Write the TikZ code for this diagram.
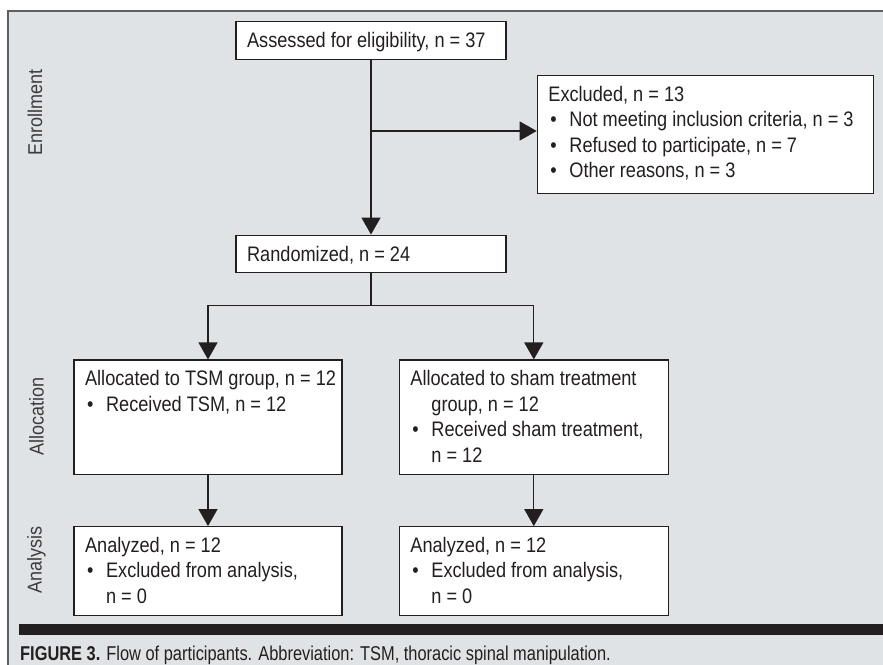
\documentclass[tikz,border=0pt]{standalone}
\usepackage{fontspec}
\setmainfont{Liberation Sans}[FakeStretch=0.865]
\newfontfamily\sidefont{Liberation Sans}[FakeStretch=0.9]
\newfontfamily\capfont{Liberation Sans}[FakeStretch=0.82]
\usetikzlibrary{arrows.meta,calc}
\definecolor{panel}{RGB}{224,227,230}
\definecolor{ink}{RGB}{35,31,32}
\definecolor{frame}{RGB}{95,95,97}
\definecolor{sidegray}{RGB}{60,60,62}
\newcommand{\bul}{\makebox[21pt][l]{\hspace{2pt}\textbullet}}
\newcommand{\ind}{\hspace*{21pt}}
\newcommand{\lns}[1]{\begin{tabular}[t]{@{}l@{}}#1\end{tabular}}
\begin{document}
\begin{tikzpicture}[x=1pt,y=-1pt,
 box/.style={draw=ink, line width=1.2pt, fill=white, inner sep=0pt},
 txt/.style={anchor=base west, inner sep=0pt, font=\fontsize{21}{25.5}\selectfont, text=ink},
 side/.style={rotate=90, font=\sidefont\fontsize{20}{24}\selectfont, text=sidegray, inner sep=0pt},
 flow/.style={draw=ink, line width=1.2pt, -{Triangle[length=17pt,width=19pt]}},
 link/.style={draw=ink, line width=1.2pt}]
\useasboundingbox (0,0) rectangle (883,664);
\fill[white] (0,0) rectangle (883,664);
\fill[panel] (8,10.7) rectangle (900,700);
\draw[frame, line width=1.6pt] (8,700) -- (8,10.7) -- (900,10.7);
\fill[ink] (19,624.3) rectangle (900,634.5);
% side labels
\node[side] (enr) at (35,112.5) {Enrollment};
\node[side] (alc) at (36.5,416) {Allocation};
\node[side] (ana) at (36.5,560) {Analysis};
% boxes
\node[box, minimum width=270pt, minimum height=37.6pt] (A) at (371,40.5) {};
\node[txt] (At) at ($(A.north west)+(11.5,26.5)$) {\lns{Assessed for eligibility, n = 37}};
\node[box, minimum width=336pt, minimum height=117.6pt] (X) at (705.3,134.5) {};
\node[txt] (Xt) at ($(X.north west)+(11.5,26)$) {\lns{Excluded, n = 13\\ \bul Not meeting inclusion criteria, n = 3\\ \bul Refused to participate, n = 7\\ \bul Other reasons, n = 3}};
\node[box, minimum width=270pt, minimum height=37.7pt] (R) at (371,254) {};
\node[txt] (Rt) at ($(R.north west)+(11.5,26.5)$) {\lns{Randomized, n = 24}};
\node[box, minimum width=268pt, minimum height=114.3pt] (L1) at (208,417.2) {};
\node[txt] (L1t) at ($(L1.north west)+(11.5,26.5)$) {\lns{Allocated to TSM group, n = 12\\ \bul Received TSM, n = 12}};
\node[box, minimum width=269pt, minimum height=114.3pt] (R1) at (533.8,417.2) {};
\node[txt] (R1t) at ($(R1.north west)+(11.5,26.5)$) {\lns{Allocated to sham treatment\\ \ind group, n = 12\\ \bul Received sham treatment,\\ \ind n = 12}};
\node[box, minimum width=268pt, minimum height=89pt] (L2) at (208,571.2) {};
\node[txt] (L2t) at ($(L2.north west)+(11.5,26)$) {\lns{Analyzed, n = 12\\ \bul Excluded from analysis,\\ \ind n = 0}};
\node[box, minimum width=269pt, minimum height=89pt] (R2) at (533.8,571.2) {};
\node[txt] (R2t) at ($(R2.north west)+(11.5,26)$) {\lns{Analyzed, n = 12\\ \bul Excluded from analysis,\\ \ind n = 0}};
% connectors
\draw[flow] (A.south) -- (R.north);
\coordinate (J) at (371,131);
\draw[flow] (J) -- (J -| X.west);
\coordinate (B) at (371,305.7);
\draw[link] (R.south) -- (B);
\draw[flow] (B) -| (L1.north);
\draw[flow] (B) -| (R1.north);
\draw[flow] (L1.south) -- (L2.north);
\draw[flow] (R1.south) -- (R2.north);
% caption
\node[anchor=base west, inner sep=0pt, font=\capfont\fontsize{20}{23}\selectfont, text=ink] (cap) at (20,660.5) {\textbf{FIGURE 3.} Flow of participants. Abbreviation: TSM, thoracic spinal manipulation.};
\end{tikzpicture}
\end{document}
